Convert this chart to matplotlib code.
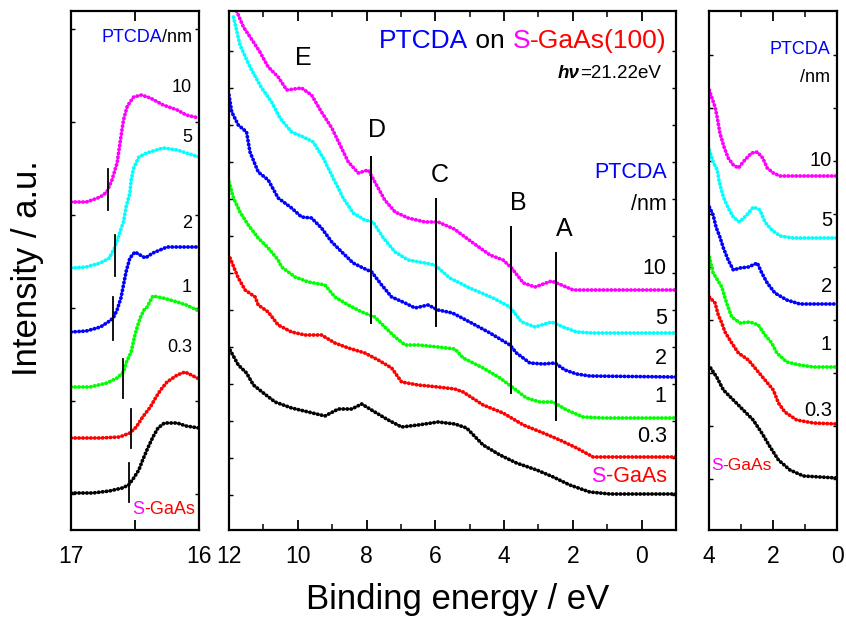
import numpy as np
import matplotlib.pyplot as plt

# UPS spectra of PTCDA on S-GaAs(100): cutoff, valence band, near-gap region
plt.rcParams['font.family'] = ['Liberation Sans', 'DejaVu Sans']

# ---------------- data (binding energy / eV, intensity / a.u.) ----------------
labels = ['S-GaAs', '0.3', '1', '2', '5', '10']
colors = ['black', '#ff0000', '#00ff00', '#0000ff', '#00ffff', '#ff00ff']

# middle panel: valence band
mid_e_sgaas = [11.97, 11.73, 11.49, 11.29, 11.0, 10.66, 10.18, 9.69, 9.21, 8.82, 8.43, 8.14, 7.76, 7.37,
               6.98, 6.50, 5.92, 5.43, 5.09, 4.61, 4.12, 3.64, 3.05, 2.57, 2.09, 1.51, 0.92, -1.0]
mid_i_sgaas = [180, 165, 157, 145, 137, 128, 122, 118, 114, 121, 121, 126, 118, 110,
               103, 105, 108, 106, 102, 85, 75, 67, 60, 53, 45, 38, 36, 36]
mid_e_03 = [11.97, 11.73, 11.53, 11.24, 11.15, 10.86, 10.57, 10.18, 9.79, 9.31, 8.92, 8.53, 8.05, 7.66,
            7.27, 6.98, 6.50, 5.92, 5.43, 5.19, 4.61, 4.03, 3.44, 2.86, 2.38, 1.89, 1.41, -1.0]
mid_i_03 = [272, 252, 240, 233, 225, 218, 205, 198, 195, 195, 187, 182, 177, 170,
            162, 148, 145, 143, 141, 138, 125, 117, 105, 97, 90, 82, 73, 73]
mid_e_1 = [12.0, 11.87, 11.68, 11.44, 11.15, 10.86, 10.57, 10.47, 10.08, 9.69, 9.21, 8.92, 8.53, 8.14,
           7.76, 7.47, 7.17, 6.88, 6.50, 5.92, 5.43, 5.19, 4.61, 4.12, 3.73, 3.35, 2.96, 2.57, 2.18,
           1.70, 1.12, -1.0]
mid_i_1 = [348, 332, 318, 305, 292, 282, 270, 263, 253, 248, 245, 233, 225, 218,
           213, 203, 193, 185, 185, 183, 181, 172, 162, 152, 142, 132, 128, 128, 120,
           113, 112, 112]
mid_e_2 = [12.0, 11.92, 11.73, 11.49, 11.39, 11.15, 10.86, 10.57, 10.18, 9.89, 9.60, 9.31, 9.01, 8.72,
           8.39, 8.10, 7.85, 7.56, 7.27, 6.88, 6.59, 6.21, 5.92, 5.50, 5.0, 4.41, 3.83, 3.64, 3.25,
           2.86, 2.52, 2.23, 1.89, 1.51, -1.0]
mid_i_2 = [435, 418, 405, 398, 378, 358, 350, 332, 322, 313, 312, 302, 288, 278,
           267, 262, 258, 245, 233, 227, 222, 225, 220, 217, 208, 197, 185, 177, 167,
           166, 167, 160, 156, 154, 153]
mid_e_5 = [11.87, 11.68, 11.39, 11.05, 10.76, 10.52, 10.18, 9.84, 9.55, 9.26, 8.97, 8.68, 8.39, 8.05,
           7.81, 7.51, 7.17, 6.79, 6.30, 6.01, 5.58, 5.0, 4.32, 3.83, 3.49, 3.10, 2.62, 2.28, 1.89,
           1.42, -1.0]
mid_i_5 = [513, 485, 463, 442, 428, 412, 398, 393, 388, 372, 352, 332, 317, 310,
           308, 292, 278, 270, 267, 265, 252, 242, 232, 223, 208, 203, 208, 203, 198,
           197, 197]
mid_e_10 = [11.78, 11.58, 11.29, 11.10, 10.86, 10.57, 10.32, 9.89, 9.60, 9.31, 9.01, 8.77, 8.53, 8.24,
            7.95, 7.71, 7.47, 7.17, 6.79, 6.30, 5.92, 5.45, 4.90, 4.41, 4.03, 3.78, 3.44, 3.10, 2.62,
            2.33, 1.99, -1.0]
mid_i_10 = [519, 503, 488, 478, 463, 453, 440, 442, 435, 418, 402, 385, 368, 357,
            360, 345, 330, 318, 312, 308, 308, 301, 287, 275, 270, 262, 247, 243, 249,
            245, 240, 240]

# left panel: secondary electron cutoff
cut_e_sgaas = [17.0, 16.83, 16.70, 16.60, 16.55, 16.51, 16.47, 16.44, 16.40, 16.36, 16.32, 16.27, 16.17, 16.10, 16.0]
cut_i_sgaas = [37, 37, 39, 42, 45, 52, 60, 70, 82, 93, 102, 107, 107, 104, 102]
cut_e_03 = [17.0, 16.77, 16.62, 16.54, 16.49, 16.44, 16.38, 16.34, 16.30, 16.25, 16.17, 16.11, 16.06, 16.0]
cut_i_03 = [92, 92, 93, 97, 103, 113, 123, 132, 140, 148, 155, 158, 155, 151]
cut_e_1 = [17.0, 16.85, 16.72, 16.64, 16.59, 16.57, 16.53, 16.51, 16.49, 16.46, 16.43, 16.41, 16.36, 16.28, 16.17, 16.10, 16.0]
cut_i_1 = [143, 143, 147, 152, 158, 167, 178, 190, 200, 212, 220, 222, 234, 232, 228, 225, 219]
cut_e_2 = [17.0, 16.88, 16.77, 16.71, 16.67, 16.64, 16.61, 16.59, 16.57, 16.54, 16.50, 16.46, 16.42, 16.36, 16.25, 16.12, 16.0]
cut_i_2 = [198, 199, 203, 208, 212, 220, 232, 245, 258, 272, 278, 275, 272, 277, 283, 283, 283]
cut_e_5 = [17.0, 16.88, 16.77, 16.70, 16.66, 16.62, 16.59, 16.57, 16.54, 16.53, 16.51, 16.47, 16.41, 16.28, 16.17, 16.10, 16.0]
cut_i_5 = [262, 263, 267, 272, 282, 297, 308, 323, 337, 350, 362, 373, 377, 382, 380, 377, 373]
cut_e_10 = [17.0, 16.88, 16.77, 16.72, 16.68, 16.64, 16.61, 16.59, 16.56, 16.51, 16.45, 16.38, 16.28, 16.17, 16.10, 16.0]
cut_i_10 = [328, 328, 333, 338, 350, 367, 393, 410, 424, 433, 435, 432, 425, 420, 415, 412]
# cutoff markers: energy, lower and upper intensity
cut_mark_e = [16.55, 16.53, 16.59, 16.67, 16.66, 16.71]
cut_mark_lo = [28, 82, 132, 190, 254, 320]
cut_mark_hi = [67, 121, 171, 233, 295, 361]

# right panel: near the Fermi level
gap_e_sgaas = [3.95, 3.76, 3.55, 3.24, 2.93, 2.62, 2.35, 2.09, 1.83, 1.47, 1.05, 0.53, 0.0]
gap_i_sgaas = [162, 153, 140, 130, 120, 110, 97, 83, 70, 60, 54, 53, 52]
gap_e_03 = [3.99, 3.81, 3.71, 3.60, 3.50, 3.29, 3.08, 2.77, 2.51, 2.25, 1.99, 1.83, 1.63, 1.26, 0.74, 0.0]
gap_i_03 = [233, 227, 215, 207, 198, 187, 177, 170, 160, 150, 140, 127, 118, 110, 107, 106]
gap_e_1 = [3.99, 3.87, 3.60, 3.45, 3.29, 3.03, 2.72, 2.46, 2.25, 2.04, 1.88, 1.57, 1.16, 0.74, 0.0]
gap_i_1 = [273, 257, 243, 227, 213, 207, 208, 205, 195, 187, 177, 168, 165, 163, 163]
gap_e_2 = [3.99, 3.87, 3.78, 3.66, 3.55, 3.40, 3.24, 3.03, 2.77, 2.49, 2.35, 2.18, 1.94, 1.57, 1.16, 0.0]
gap_i_2 = [323, 315, 303, 293, 282, 270, 260, 262, 263, 267, 257, 247, 237, 230, 226, 226]
gap_e_5 = [3.99, 3.87, 3.74, 3.68, 3.55, 3.40, 3.24, 3.05, 2.82, 2.61, 2.41, 2.25, 2.04, 1.78, 1.37, 0.0]
gap_i_5 = [380, 368, 360, 348, 333, 322, 313, 308, 315, 323, 320, 308, 300, 294, 292, 292]
gap_e_10 = [3.99, 3.92, 3.81, 3.74, 3.66, 3.53, 3.40, 3.24, 3.08, 2.88, 2.67, 2.49, 2.32, 2.18, 1.99, 1.78, 0.0]
gap_i_10 = [440, 433, 423, 412, 397, 383, 372, 365, 362, 370, 377, 378, 372, 362, 357, 354, 354]

# peak markers A-E in the valence band
peak_names = ['E', 'D', 'C', 'B', 'A']
peak_e = [9.85, 7.86, 5.98, 3.80, 2.48]

mid_e = [mid_e_sgaas, mid_e_03, mid_e_1, mid_e_2, mid_e_5, mid_e_10]
mid_i = [mid_i_sgaas, mid_i_03, mid_i_1, mid_i_2, mid_i_5, mid_i_10]
cut_e = [cut_e_sgaas, cut_e_03, cut_e_1, cut_e_2, cut_e_5, cut_e_10]
cut_i = [cut_i_sgaas, cut_i_03, cut_i_1, cut_i_2, cut_i_5, cut_i_10]
gap_e = [gap_e_sgaas, gap_e_03, gap_e_1, gap_e_2, gap_e_5, gap_e_10]
gap_i = [gap_i_sgaas, gap_i_03, gap_i_1, gap_i_2, gap_i_5, gap_i_10]


def dots(ax, e, i, c):
    # dense chain of round dots, like the measured points
    ax.plot(e, i, color=c, lw=2.7, ls=(0, (0.1, 0.95)), dash_capstyle='round')


def multi_text(ax, x, y, parts, size, va='center', **kw):
    # parts = [(text, colour), ...], right aligned at x, drawn right to left
    t = ax.text(x, y, parts[-1][0], color=parts[-1][1], fontsize=size, ha='right', va=va)
    for s, c in reversed(parts[:-1]):
        t = ax.annotate(s, xy=(0, 0), xycoords=t, ha='right', va='bottom', color=c, fontsize=size, **kw)
    return t


def style(ax):
    for sp in ax.spines.values():
        sp.set_linewidth(1.6)
    ax.tick_params(which='both', direction='in', top=True, right=True, labelsize=16.5, pad=11)
    ax.tick_params(axis='y', which='both', length=3, width=1, labelleft=False)
    ax.tick_params(axis='x', which='major', length=7, width=1.3)
    ax.tick_params(axis='x', which='minor', length=4, width=1.1)
    ax.set_ylim(0, 519)


fig = plt.figure(figsize=(8.46, 6.24), dpi=100)
ax_l = fig.add_axes([71 / 846, 94 / 624, 128 / 846, 519 / 624])
ax_m = fig.add_axes([229 / 846, 94 / 624, 447 / 846, 519 / 624])
ax_r = fig.add_axes([709 / 846, 94 / 624, 128 / 846, 519 / 624])

# --- left panel ---
for e, i, c in zip(cut_e, cut_i, colors):
    dots(ax_l, e, i, c)
for e, lo, hi in zip(cut_mark_e, cut_mark_lo, cut_mark_hi):
    ax_l.plot([e, e], [lo, hi], color='k', lw=1.3)
style(ax_l)
ax_l.set_xlim(17, 16)
ax_l.set_xticks([17, 16.5, 16])
ax_l.set_xticklabels(['17', '', '16'])
ax_l.set_yticks(np.arange(36, 510, 93))
multi_text(ax_l, 16.055, 493, [('PTCDA', '#0000ff'), ('/nm', 'black')], 13)
for lab, y in zip(['10', '5', '2', '1', '0.3'], [442, 392, 307, 243, 183]):
    ax_l.text(16.055, y, lab, fontsize=13, ha='right', va='center')
multi_text(ax_l, 16.03, 20, [('S', '#ff00ff'), ('-GaAs', '#ff0000')], 13)

# --- middle panel ---
for e, i, c in zip(mid_e, mid_i, colors):
    dots(ax_m, e, i, c)
style(ax_m)
ax_m.set_xlim(12, -1)
ax_m.set_xticks(np.arange(12, -1, -2))
ax_m.set_xticks(np.arange(11, -2, -2), minor=True)
ax_m.set_yticks(np.arange(35, 500, 37))
peak_top = [None, 373, 331, 303, 277]
peak_bot = [None, 207, 204, 137, 110]
lab_x = [9.85, 7.70, 5.87, 3.60, 2.26]
lab_y = [472, 400, 355, 327, 301]
for n, e, top, bot, lx, ly in zip(peak_names, peak_e, peak_top, peak_bot, lab_x, lab_y):
    if top is not None:
        ax_m.plot([e, e], [bot, top], color='k', lw=1.4)
    ax_m.text(lx, ly, n, fontsize=18, ha='center', va='center')
multi_text(ax_m, -0.73, 489, [('PTCDA', '#0000ff'), (' on ', 'black'), ('S', '#ff00ff'),
                              ('-GaAs(100)', '#ff0000')], 19)
multi_text(ax_m, -0.55, 457, [('hν', 'black'), ('=21.22eV', 'black')], 13.5,
           style='italic', fontweight='bold')
ax_m.text(-0.73, 358, 'PTCDA', color='#0000ff', fontsize=15.5, ha='right', va='center')
ax_m.text(-0.73, 325, '/nm', fontsize=15.5, ha='right', va='center')
for lab, y in zip(['10', '5', '2', '1', '0.3'], [262, 212, 172, 133, 93]):
    ax_m.text(-0.73, y, lab, fontsize=15.5, ha='right', va='center')
multi_text(ax_m, -0.73, 53, [('S', '#ff00ff'), ('-GaAs', '#ff0000')], 15.5)

# --- right panel ---
for e, i, c in zip(gap_e, gap_i, colors):
    dots(ax_r, e, i, c)
style(ax_r)
ax_r.set_xlim(4, 0)
ax_r.set_xticks([4, 2, 0])
ax_r.set_xticks([3, 1], minor=True)
ax_r.set_yticks(np.arange(51, 480, 53))
ax_r.text(0.22, 480, 'PTCDA', color='#0000ff', fontsize=13, ha='right', va='center')
ax_r.text(0.22, 453, '/nm', fontsize=13, ha='right', va='center')
for lab, y in zip(['10', '5', '2', '1', '0.3'], [370, 310, 243, 185, 120]):
    ax_r.text(0.16, y, lab, fontsize=14.5, ha='right', va='center')
multi_text(ax_r, 2.03, 65, [('S', '#ff00ff'), ('-GaAs', '#ff0000')], 12.5)

fig.text(28 / 846, 1 - 268 / 624, 'Intensity / a.u.', rotation=90, fontsize=25, ha='center', va='center')
fig.text(458 / 846, 1 - 600 / 624, 'Binding energy / eV', fontsize=25, ha='center', va='center')

fig.savefig('out.png', dpi=100)
